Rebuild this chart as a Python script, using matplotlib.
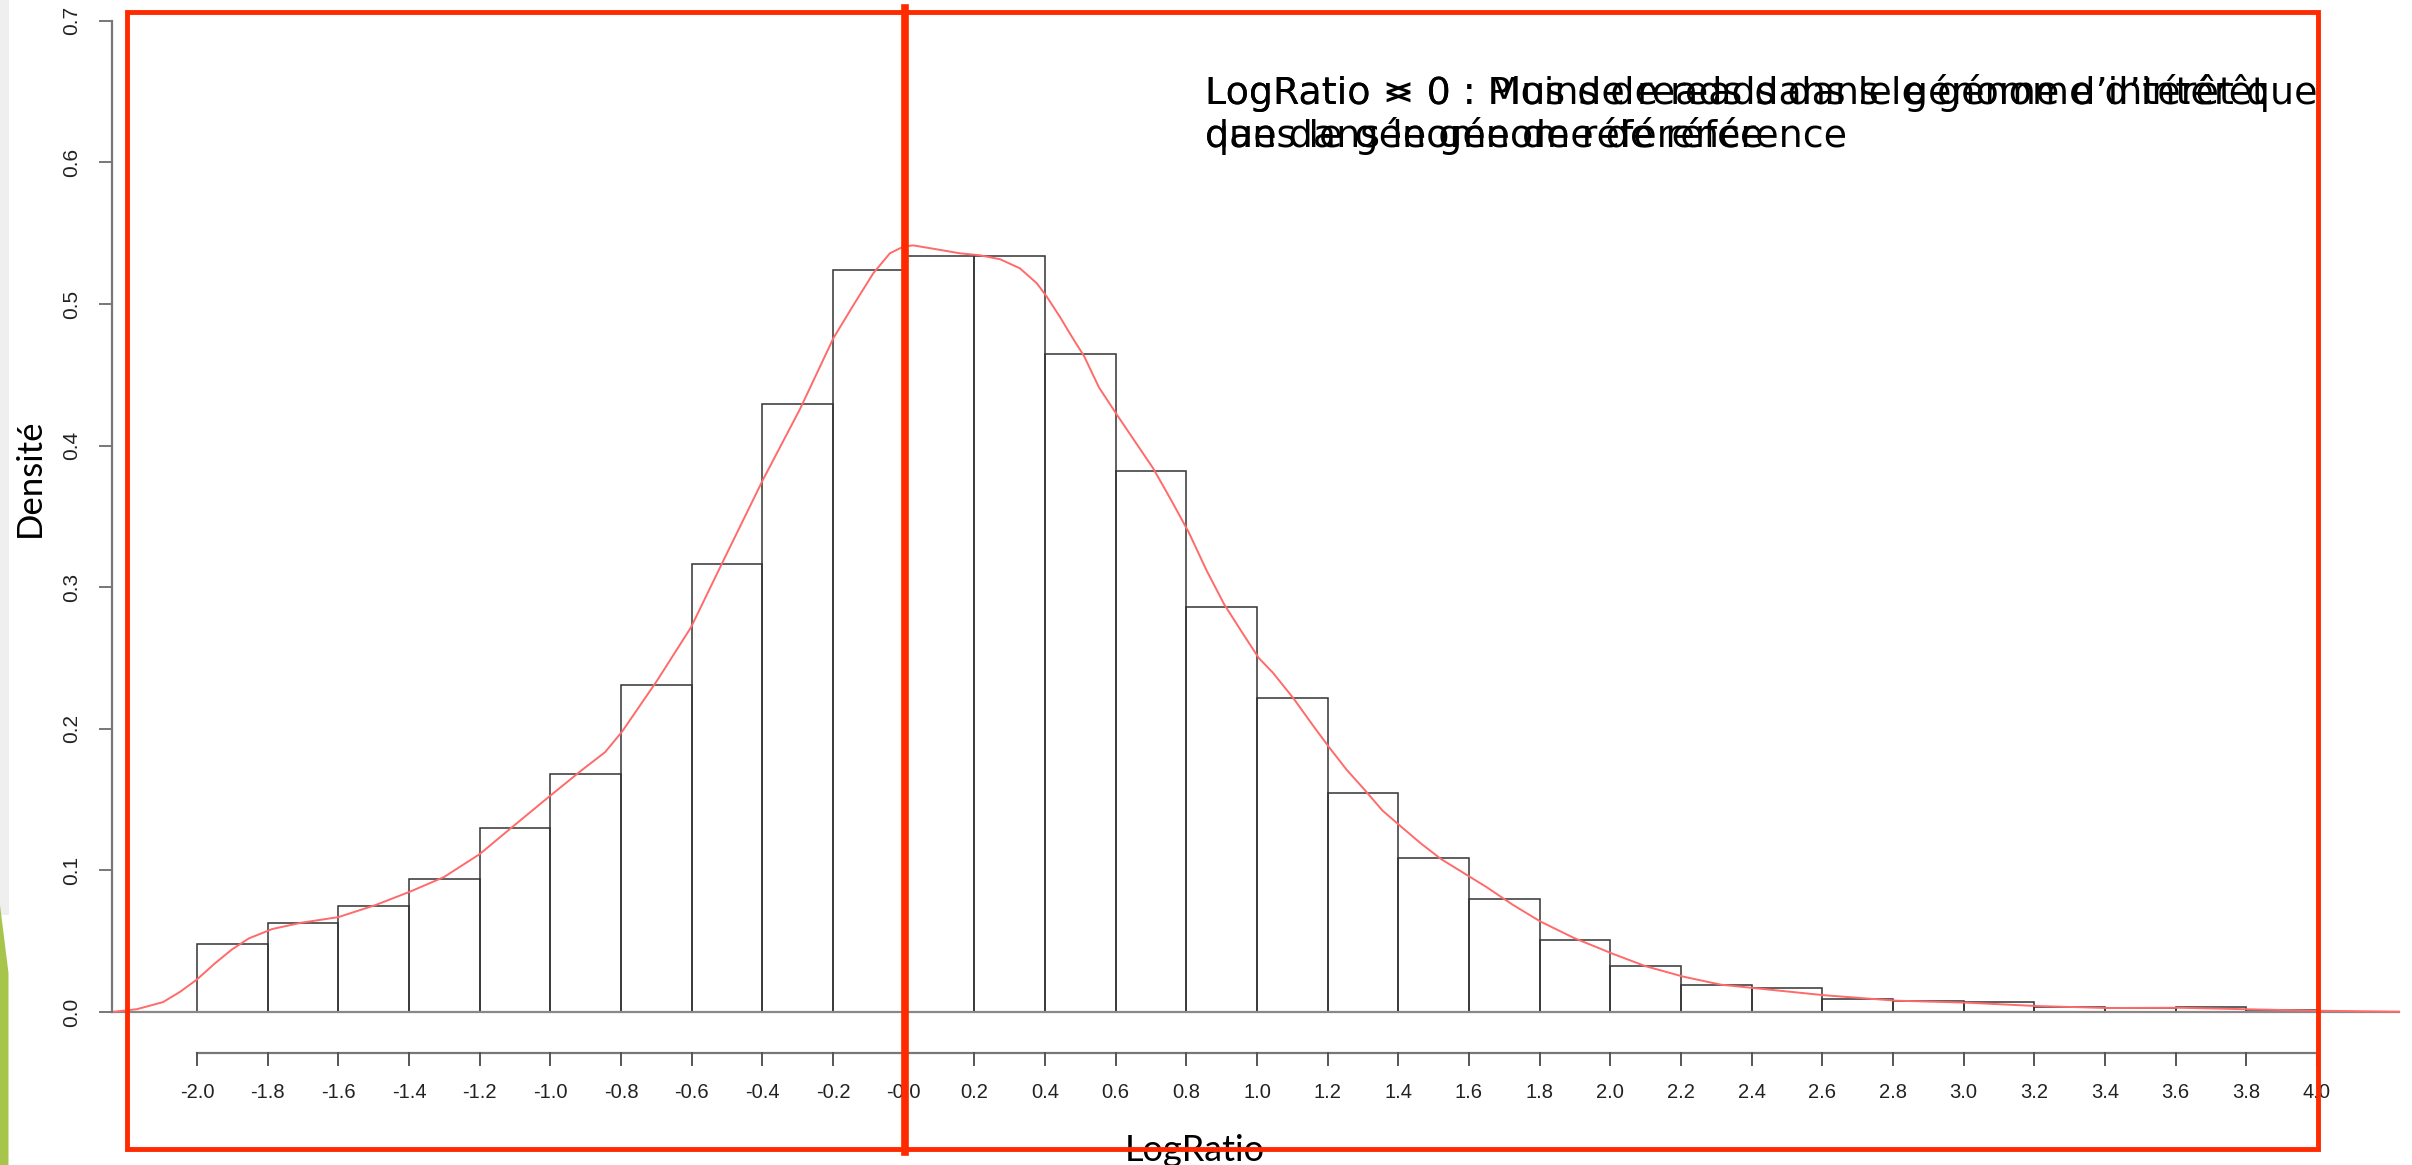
import numpy as np
import matplotlib.pyplot as plt
from matplotlib.patches import Rectangle, Polygon

# ==============================
# Données
# ==============================
bin_edges = np.round(np.arange(-2.0, 4.0001, 0.2), 1)
bar_heights = [0.048, 0.0626, 0.0748, 0.0939, 0.130, 0.168, 0.231, 0.3165,
               0.4295, 0.524, 0.534, 0.534, 0.4644, 0.3824, 0.2863, 0.2216,
               0.155, 0.1086, 0.0797, 0.0508, 0.0322, 0.0188, 0.0167, 0.0089,
               0.0078, 0.0071, 0.0033, 0.0026, 0.0033, 0.0016]

# courbe de densité (points relevés)
dens_x = [-2.24, -2.17, -2.096, -2.047, -2.0, -1.95, -1.901, -1.853, -1.787,
          -1.706, -1.6, -1.495, -1.397, -1.301, -1.2, -1.106, -0.999, -0.91,
          -0.845, -0.797, -0.698, -0.602, -0.504, -0.398, -0.293, -0.199,
          -0.142, -0.086, -0.039, -0.001, 0.027, 0.094, 0.159, 0.216, 0.273,
          0.329, 0.377, 0.405, 0.442, 0.476, 0.511, 0.553, 0.604, 0.706,
          0.756, 0.807, 0.857, 0.907, 0.958, 1.005, 1.045, 1.103, 1.16,
          1.204, 1.254, 1.305, 1.355, 1.405, 1.464, 1.521, 1.651, 1.724,
          1.803, 1.897, 2.005, 2.099, 2.206, 2.313, 2.406, 2.607, 2.808,
          3.009, 3.208, 3.409, 3.61, 3.809, 4.0, 4.232]
dens_y = [0.0, 0.002, 0.007, 0.0144, 0.023, 0.0342, 0.0442, 0.052, 0.0586,
          0.063, 0.067, 0.0755, 0.085, 0.0953, 0.1115, 0.131, 0.153, 0.171,
          0.1835, 0.198, 0.234, 0.2716, 0.322, 0.376, 0.426, 0.4758,
          0.4993, 0.5217, 0.5358, 0.5405, 0.5414, 0.5386, 0.5358, 0.5344, 0.5316,
          0.5252, 0.5146, 0.5052, 0.491, 0.4769, 0.463, 0.441, 0.4216, 0.384,
          0.362, 0.3387, 0.312, 0.288, 0.268, 0.250, 0.2396, 0.2216, 0.2018,
          0.187, 0.171, 0.1568, 0.1423, 0.1315, 0.119, 0.108, 0.088, 0.0757,
          0.0638, 0.0523, 0.0413, 0.0324, 0.025, 0.0193, 0.0169, 0.0118, 0.008,
          0.0066, 0.0042, 0.0028, 0.003, 0.0019, 0.0009, 0.0002]

y_ticks = [0.0, 0.1, 0.2, 0.3, 0.4, 0.5, 0.6, 0.7]
x_ticks = bin_edges

txt_neg = "LogRatio < 0 : Moins de reads dans le génome d’intérêt\nque dans le génome de référence"
txt_pos = "LogRatio > 0 : Plus de reads dans le génome d’intérêt que\ndans le génome de référence"

# ==============================
# Figure (pixels)
# ==============================
W, H = 2412, 1165
fig = plt.figure(figsize=(W / 100, H / 100), dpi=100)

# correspondance données -> pixels
X0, SX = 197.0, 353.33   # x=-2 -> 197 px, 1 unité = 353.33 px
Y0, SY = 1012.0, 1416.0  # y=0 -> 1012 px (depuis le haut)
xlim = (-2.3, 4.3)
ylim = (-0.1, 0.71)
left = X0 + (xlim[0] + 2) * SX
right = X0 + (xlim[1] + 2) * SX
top = Y0 - ylim[1] * SY
bot = Y0 - ylim[0] * SY
ax = fig.add_axes([left / W, 1 - bot / H, (right - left) / W, (bot - top) / H])
ax.set_xlim(*xlim)
ax.set_ylim(*ylim)
ax.axis("off")

# fond du bord gauche (diapo)
deco = fig.add_axes([0, 0, 1, 1], zorder=5)
deco.set_xlim(0, W)
deco.set_ylim(H, 0)
deco.axis("off")
deco.patch.set_alpha(0)
deco.add_patch(Rectangle((0, 0), 8.5, 915, color="#efefef", lw=0))
deco.add_patch(Polygon([(0, 905), (8.5, 973), (8.5, H), (0, H)], color="#a6c54a", lw=0))

# histogramme
ax.bar(bin_edges[:-1], bar_heights, width=0.2, align="edge", fill=False,
       edgecolor="#333333", linewidth=1.1)
ax.plot([dens_x[0], dens_x[-1]], [0, 0], color="#888888", lw=1.6, zorder=1)
ax.plot(dens_x, dens_y, color="#ff6a6a", lw=1.4, solid_joinstyle="round")

# axe y
ya = -2.2406
ax.plot([ya, ya], [0, 0.7], color="#777777", lw=1.6, clip_on=False)
for t in y_ticks:
    ax.plot([ya, ya - 0.034], [t, t], color="#777777", lw=1.4, clip_on=False)
    ax.text(ya - 0.113, t, f"{t:.1f}", rotation=90, ha="center", va="center",
            fontsize=15, family="Liberation Sans", color="#222222", clip_on=False)

# axe x
xa = -0.029
ax.plot([-2, 4], [xa, xa], color="#777777", lw=1.6)
for t in x_ticks:
    ax.plot([t, t], [xa, xa - 0.0085], color="#555555", lw=1.4)
    ax.text(t, -0.0565, f"{t:.1f}", ha="center", va="center",
            fontsize=14.5, family="Liberation Sans", color="#222222")

# titres d'axes
fig.text(30 / W, 1 - 478 / H, "Densité", rotation=90, ha="center", va="center",
         fontsize=25, family="Lato", color="black")
fig.text(1195 / W, 1 - 1161 / H, "LogRatio", ha="center", va="baseline",
         fontsize=26, family="Lato", color="black")

# textes superposés
for s in (txt_neg, txt_pos):
    fig.text(1205 / W, 1 - 74 / H, s, ha="left", va="top", fontsize=27.4,
             family="DejaVu Sans", color="black", linespacing=1.18)

# cadres rouges
red = "#ff2a00"
deco.add_patch(Rectangle((127, 12), 905 - 127, 1149 - 12, fill=False, ec=red, lw=3.5))
deco.add_patch(Rectangle((905, 12), 2318 - 905, 1149 - 12, fill=False, ec=red, lw=3.5))
deco.plot([905, 905], [8, 1152], color=red, lw=5.5)

fig.savefig("out.png", dpi=100)
